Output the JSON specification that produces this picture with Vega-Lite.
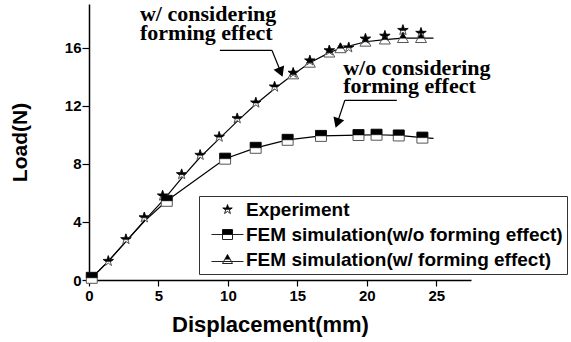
{
  "$schema": "https://vega.github.io/schema/vega-lite/v6.json",
  "width": 382,
  "height": 276,
  "autosize": "none",
  "padding": {"left": 89, "top": 4, "right": 100, "bottom": 62},
  "background": "white",
  "config": {
    "view": {"stroke": null},
    "axis": {
      "domainColor": "black", "domainWidth": 1.5, "tickColor": "black", "tickWidth": 1.2,
      "labelFont": "Liberation Sans", "labelFontWeight": "bold", "labelFontSize": 15, "labelColor": "black",
      "titleFont": "Liberation Sans", "titleFontWeight": "bold", "titleColor": "black", "grid": false
    }
  },
  "datasets": {
    "pts": [
      {"series": "FEM simulation(w/ forming effect)", "x": 0.2, "y": 0.15, "marker": false},
      {"series": "FEM simulation(w/ forming effect)", "x": 1.4, "y": 1.3, "marker": false},
      {"series": "FEM simulation(w/ forming effect)", "x": 2.7, "y": 2.7, "marker": false},
      {"series": "FEM simulation(w/ forming effect)", "x": 4.0, "y": 4.1, "marker": false},
      {"series": "FEM simulation(w/ forming effect)", "x": 5.4, "y": 5.55, "marker": false},
      {"series": "FEM simulation(w/ forming effect)", "x": 6.7, "y": 7.05, "marker": false},
      {"series": "FEM simulation(w/ forming effect)", "x": 8.0, "y": 8.45, "marker": false},
      {"series": "FEM simulation(w/ forming effect)", "x": 9.4, "y": 9.75, "marker": false},
      {"series": "FEM simulation(w/ forming effect)", "x": 10.7, "y": 10.95, "marker": false},
      {"series": "FEM simulation(w/ forming effect)", "x": 12.0, "y": 12.1, "marker": false},
      {"series": "FEM simulation(w/ forming effect)", "x": 13.4, "y": 13.2, "marker": false},
      {"series": "FEM simulation(w/ forming effect)", "x": 14.7, "y": 14.15, "marker": true},
      {"series": "FEM simulation(w/ forming effect)", "x": 15.9, "y": 14.95, "marker": true},
      {"series": "FEM simulation(w/ forming effect)", "x": 17.3, "y": 15.65, "marker": true},
      {"series": "FEM simulation(w/ forming effect)", "x": 18.1, "y": 15.95, "marker": true},
      {"series": "FEM simulation(w/ forming effect)", "x": 19.9, "y": 16.4, "marker": true},
      {"series": "FEM simulation(w/ forming effect)", "x": 21.3, "y": 16.55, "marker": true},
      {"series": "FEM simulation(w/ forming effect)", "x": 22.6, "y": 16.65, "marker": true},
      {"series": "FEM simulation(w/ forming effect)", "x": 23.9, "y": 16.65, "marker": true},
      {"series": "FEM simulation(w/ forming effect)", "x": 24.8, "y": 16.65, "marker": false},
      {"series": "FEM simulation(w/o forming effect)", "x": 0.2, "y": 0.15, "marker": true},
      {"series": "FEM simulation(w/o forming effect)", "x": 1.4, "y": 1.3, "marker": false},
      {"series": "FEM simulation(w/o forming effect)", "x": 2.7, "y": 2.7, "marker": false},
      {"series": "FEM simulation(w/o forming effect)", "x": 4.0, "y": 4.05, "marker": false},
      {"series": "FEM simulation(w/o forming effect)", "x": 5.6, "y": 5.45, "marker": true},
      {"series": "FEM simulation(w/o forming effect)", "x": 9.8, "y": 8.35, "marker": true},
      {"series": "FEM simulation(w/o forming effect)", "x": 12.0, "y": 9.1, "marker": true},
      {"series": "FEM simulation(w/o forming effect)", "x": 14.3, "y": 9.65, "marker": true},
      {"series": "FEM simulation(w/o forming effect)", "x": 16.7, "y": 9.92, "marker": true},
      {"series": "FEM simulation(w/o forming effect)", "x": 19.4, "y": 9.98, "marker": true},
      {"series": "FEM simulation(w/o forming effect)", "x": 20.7, "y": 10.0, "marker": true},
      {"series": "FEM simulation(w/o forming effect)", "x": 22.3, "y": 9.95, "marker": true},
      {"series": "FEM simulation(w/o forming effect)", "x": 24.0, "y": 9.8, "marker": true},
      {"series": "FEM simulation(w/o forming effect)", "x": 24.8, "y": 9.75, "marker": false},
      {"series": "Experiment", "x": 1.39, "y": 1.3, "marker": true},
      {"series": "Experiment", "x": 2.66, "y": 2.8, "marker": true},
      {"series": "Experiment", "x": 3.98, "y": 4.3, "marker": true},
      {"series": "Experiment", "x": 5.3, "y": 5.8, "marker": true},
      {"series": "Experiment", "x": 6.67, "y": 7.27, "marker": true},
      {"series": "Experiment", "x": 8.0, "y": 8.6, "marker": true},
      {"series": "Experiment", "x": 9.37, "y": 9.85, "marker": true},
      {"series": "Experiment", "x": 10.67, "y": 11.12, "marker": true},
      {"series": "Experiment", "x": 12.01, "y": 12.2, "marker": true},
      {"series": "Experiment", "x": 13.36, "y": 13.3, "marker": true},
      {"series": "Experiment", "x": 14.7, "y": 14.25, "marker": true},
      {"series": "Experiment", "x": 15.9, "y": 15.1, "marker": true},
      {"series": "Experiment", "x": 17.3, "y": 15.8, "marker": true},
      {"series": "Experiment", "x": 18.7, "y": 16.0, "marker": true},
      {"series": "Experiment", "x": 19.9, "y": 16.6, "marker": true},
      {"series": "Experiment", "x": 21.3, "y": 16.8, "marker": true},
      {"series": "Experiment", "x": 22.6, "y": 17.2, "marker": true},
      {"series": "Experiment", "x": 23.9, "y": 17.0, "marker": true}
    ],
    "notes": [
      {"x": 3.67, "y": 17.8, "text": "w/ considering\nforming effect"},
      {"x": 18.3, "y": 14.12, "text": "w/o considering\nforming effect"}
    ],
    "arrows": [
      {"x": 9.42, "y": 15.81, "x2": 13.17, "y2": 15.81},
      {"x": 13.17, "y": 15.81, "x2": 13.9, "y2": 14.1},
      {"x": 22.16, "y": 12.37, "x2": 18.42, "y2": 12.37},
      {"x": 18.42, "y": 12.37, "x2": 17.8, "y2": 10.6}
    ],
    "heads": [
      {"arrow": "a", "x": 13.8, "y": 14.3},
      {"arrow": "b", "x": 17.87, "y": 10.8}
    ]
  },
  "layer": [
    {
      "data": {"name": "pts"},
      "transform": [{"filter": "datum.series !== 'Experiment'"}],
      "mark": {"type": "line", "color": "black", "strokeWidth": 1.2},
      "encoding": {
        "x": {"field": "x", "type": "quantitative", "scale": {"domain": [0, 27.5], "nice": false, "zero": false},
          "axis": {"title": "Displacement(mm)", "titleFontSize": 22, "titlePadding": 11, "titleX": 181, "titleAlign": "center", "values": [0, 2.5, 5, 7.5, 10, 12.5, 15, 17.5, 20, 22.5, 25, 27.5],
            "labelExpr": "datum.value % 5 === 0 ? datum.label : ''", "tickSize": {"condition": {"test": "datum.value % 5 === 0", "value": 6}, "value": 3}, "labelPadding": 2, "labelFlush": false, "labelOverlap": false}},
        "y": {"field": "y", "type": "quantitative", "scale": {"domain": [0, 19], "nice": false},
          "axis": {"title": "Load(N)", "titleFontSize": 21, "titlePadding": 34, "values": [0, 2, 4, 6, 8, 10, 12, 14, 16, 18],
            "labelExpr": "datum.value % 4 === 0 ? datum.label : ''", "tickSize": {"condition": {"test": "datum.value % 4 === 0", "value": 7}, "value": 3}, "labelPadding": 1, "labelOverlap": false}},
        "detail": {"field": "series"},
        "order": {"field": "x", "type": "quantitative"}
      }
    },
    {
      "data": {"name": "pts"},
      "transform": [{"filter": "datum.series === 'none'"}],
      "mark": {"type": "point", "filled": false, "opacity": 1},
      "encoding": {
        "x": {"field": "x", "type": "quantitative"},
        "y": {"field": "y", "type": "quantitative"},
        "shape": {"field": "series", "type": "nominal",
          "scale": {"domain": ["Experiment", "FEM simulation(w/o forming effect)", "FEM simulation(w/ forming effect)"],
            "range": ["M0,-1L0.225,-0.309L0.951,-0.309L0.363,0.118L0.588,0.809L0,0.382L-0.588,0.809L-0.363,0.118L-0.951,-0.309L-0.225,-0.309Z", "M-3.2,0H3.2M-1,-1H1V1H-1Z", "M-3.2,0.4H3.2M0,-1L1,0.8H-1Z"]},
          "legend": {"orient": "none", "legendX": 110, "legendY": 192, "title": null, "padding": 4, "strokeColor": "#333",
            "symbolOffset": 15, "labelOffset": 9, "labelFont": "Liberation Sans", "labelFontWeight": "bold", "labelFontSize": 19, "labelColor": "black", "labelLimit": 0,
            "symbolSize": 100, "rowPadding": 5, "symbolStrokeWidth": 1, "symbolFillColor": "transparent", "symbolStrokeColor": "#222", "symbolOpacity": 1}}
      }
    },
    {
      "data": {"name": "pts"},
      "transform": [{"filter": "datum.marker"}],
      "mark": {"type": "point", "filled": true, "fill": "white", "stroke": "#555", "strokeWidth": 1, "size": 120, "opacity": 1},
      "encoding": {
        "x": {"field": "x", "type": "quantitative"},
        "y": {"field": "y", "type": "quantitative"},
        "shape": {"field": "series", "type": "nominal",
          "scale": {"domain": ["Experiment", "FEM simulation(w/o forming effect)", "FEM simulation(w/ forming effect)"],
            "range": ["M0,-1L0.225,-0.309L0.951,-0.309L0.363,0.118L0.588,0.809L0,0.382L-0.588,0.809L-0.363,0.118L-0.951,-0.309L-0.225,-0.309Z", "M-1,-1H1V1H-1Z", "M0,-1L1,0.8H-1Z"]},
          "legend": null}
      }
    },
    {
      "data": {"name": "pts"},
      "transform": [{"filter": "datum.marker"}],
      "mark": {"type": "point", "filled": true, "fill": "black", "stroke": "black", "strokeWidth": 0.5, "size": 120, "opacity": 1},
      "encoding": {
        "x": {"field": "x", "type": "quantitative"},
        "y": {"field": "y", "type": "quantitative"},
        "shape": {"field": "series", "type": "nominal",
          "scale": {"domain": ["Experiment", "FEM simulation(w/o forming effect)", "FEM simulation(w/ forming effect)"],
            "range": ["M0,-1L0.225,-0.309L0.951,-0.309L0.457,0.05L-0.457,0.05L-0.951,-0.309L-0.225,-0.309Z", "M-1,-1H1V0H-1Z", "M0,-1L0.556,0H-0.556Z"]},
          "legend": {"orient": "none", "legendX": 110, "legendY": 192, "title": null, "padding": 4, "strokeColor": null,
            "symbolOffset": 15, "labelOffset": 9, "labelFont": "Liberation Sans", "labelFontWeight": "bold", "labelFontSize": 19, "labelOpacity": 0, "labelLimit": 0,
            "symbolSize": 100, "rowPadding": 5, "symbolFillColor": "black", "symbolStrokeColor": "black", "symbolStrokeWidth": 0.5, "symbolOpacity": 1}}
      }
    },
    {
      "data": {"name": "arrows"},
      "mark": {"type": "rule", "color": "black", "strokeWidth": 1.2},
      "encoding": {
        "x": {"field": "x", "type": "quantitative"},
        "y": {"field": "y", "type": "quantitative"},
        "x2": {"field": "x2"},
        "y2": {"field": "y2"}
      }
    },
    {
      "data": {"name": "heads"},
      "transform": [{"filter": "datum.arrow === 'a'"}],
      "mark": {"type": "point", "shape": "triangle-down", "filled": true, "color": "black", "size": 130, "angle": 338, "opacity": 1},
      "encoding": {"x": {"field": "x", "type": "quantitative"}, "y": {"field": "y", "type": "quantitative"}}
    },
    {
      "data": {"name": "heads"},
      "transform": [{"filter": "datum.arrow === 'b'"}],
      "mark": {"type": "point", "shape": "triangle-down", "filled": true, "color": "black", "size": 130, "angle": 19, "opacity": 1},
      "encoding": {"x": {"field": "x", "type": "quantitative"}, "y": {"field": "y", "type": "quantitative"}}
    },
    {
      "data": {"name": "notes"},
      "mark": {"type": "text", "font": "Liberation Serif", "fontWeight": "bold", "fontSize": 22, "align": "left", "baseline": "alphabetic", "color": "black", "lineBreak": "\n", "lineHeight": 18.5},
      "encoding": {
        "x": {"field": "x", "type": "quantitative"},
        "y": {"field": "y", "type": "quantitative"},
        "text": {"field": "text"}
      }
    }
  ],
  "resolve": {"scale": {"shape": "independent"}, "legend": {"shape": "independent"}}
}
